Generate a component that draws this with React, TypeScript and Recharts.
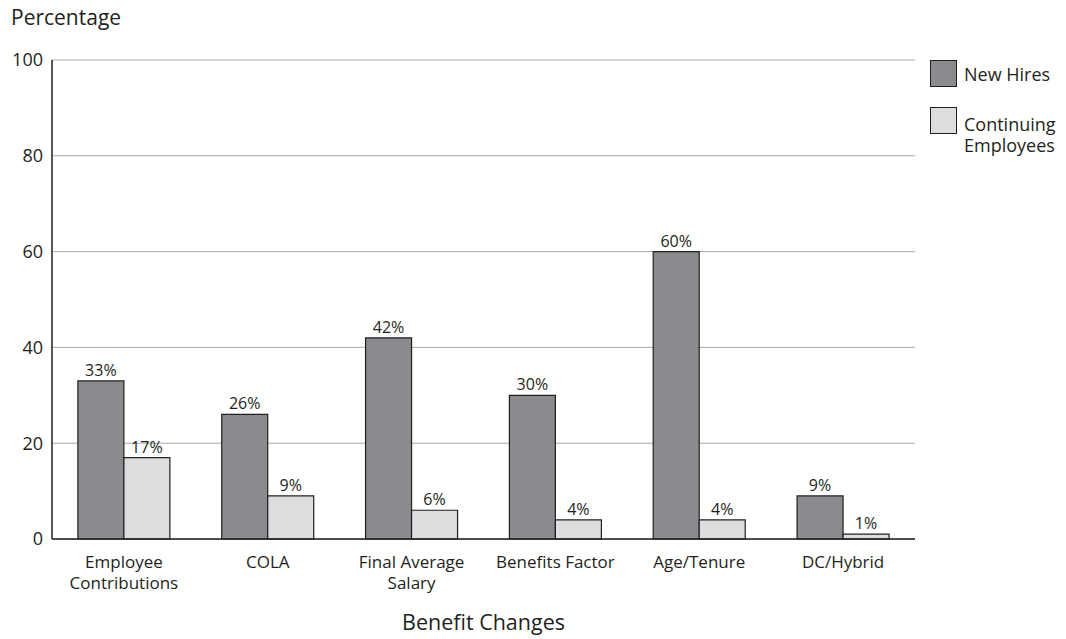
import { BarChart, Bar, XAxis, YAxis, CartesianGrid, LabelList } from 'recharts'

const categories = [
  'Employee Contributions',
  'COLA',
  'Final Average Salary',
  'Benefits Factor',
  'Age/Tenure',
  'DC/Hybrid'
]
// multi-line axis labels, one entry per category
const tickLines = [
  ['Employee', 'Contributions'],
  ['COLA'],
  ['Final Average', 'Salary'],
  ['Benefits Factor'],
  ['Age/Tenure'],
  ['DC/Hybrid']
]
const newHires = [33, 26, 42, 30, 60, 9]
const continuing = [17, 9, 6, 4, 4, 1]
const yTicks = [0, 20, 40, 60, 80, 100]

const data = categories.map((name, i) => ({
  name,
  newHires: newHires[i],
  continuing: continuing[i]
}))

const FONT = '"Open Sans", "Noto Sans", sans-serif'
const DARK = '#8a8b8e'
const LIGHT = '#dcdddf'
const EDGE = '#231f20'
const TEXT = '#231f20'

function CategoryTick({ x, y, payload }: any) {
  const lines = tickLines[payload.index] ?? [payload.value]
  return (
    <text x={x} y={y + 21} textAnchor="middle" fill={TEXT} fontSize={17} fontFamily={FONT}>
      {lines.map((l, i) => (
        <tspan key={i} x={x} dy={i === 0 ? 0 : 21}>{l}</tspan>
      ))}
    </text>
  )
}

function LegendBox() {
  const swatch = (fill: string) => ({
    width: 25,
    height: 25,
    background: fill,
    border: `1px solid ${EDGE}`,
    flex: 'none' as const
  })
  const row = { display: 'flex', alignItems: 'flex-start', gap: 7 }
  const label = { fontFamily: FONT, fontSize: 18, color: TEXT, lineHeight: '21px' }
  return (
    <div style={{ position: 'absolute', left: 930, top: 60 }}>
      <div style={{ ...row, marginBottom: 20 }}>
        <div style={swatch(DARK)} />
        <div style={{ ...label, marginTop: 4 }}>New Hires</div>
      </div>
      <div style={row}>
        <div style={swatch(LIGHT)} />
        <div style={{ ...label, marginTop: 7 }}>Continuing<br />Employees</div>
      </div>
    </div>
  )
}

export default function App() {
  return (
    <div style={{ position: 'absolute', left: 0, top: 0, width: 1066, height: 639, background: '#fff' }}>
      <div style={{ position: 'absolute', left: 11, top: 7, fontFamily: FONT, fontSize: 21, lineHeight: '21px', color: TEXT }}>
        Percentage
      </div>
      <BarChart
        width={1066}
        height={639}
        data={data}
        margin={{ top: 60, right: 151, bottom: 0, left: 0 }}
        barCategoryGap="18%"
        barGap={0}
      >
        <CartesianGrid vertical={false} stroke="#a7a9ac" strokeWidth={1} />
        <XAxis
          dataKey="name"
          axisLine={{ stroke: EDGE, strokeWidth: 1.5 }}
          tickLine={false}
          interval={0}
          tick={<CategoryTick />}
          height={100}
          label={{ value: 'Benefit Changes', position: 'insideBottom', offset: 9, fill: TEXT, fontSize: 21.5, fontFamily: FONT }}
        />
        <YAxis
          width={52}
          domain={[0, 100]}
          ticks={yTicks}
          axisLine={{ stroke: EDGE, strokeWidth: 1.5 }}
          tickLine={false}
          tick={{ fill: TEXT, fontSize: 18, fontFamily: FONT }}
          tickMargin={3}
        />
        <Bar dataKey="newHires" fill={DARK} stroke={EDGE} strokeWidth={1.2} isAnimationActive={false}>
          <LabelList dataKey="newHires" position="top" formatter={(v: any) => `${v}%`} fill={TEXT} fontSize={16} fontFamily={FONT} />
        </Bar>
        <Bar dataKey="continuing" fill={LIGHT} stroke={EDGE} strokeWidth={1.2} isAnimationActive={false}>
          <LabelList dataKey="continuing" position="top" formatter={(v: any) => `${v}%`} fill={TEXT} fontSize={16} fontFamily={FONT} />
        </Bar>
      </BarChart>
      <LegendBox />
    </div>
  )
}
